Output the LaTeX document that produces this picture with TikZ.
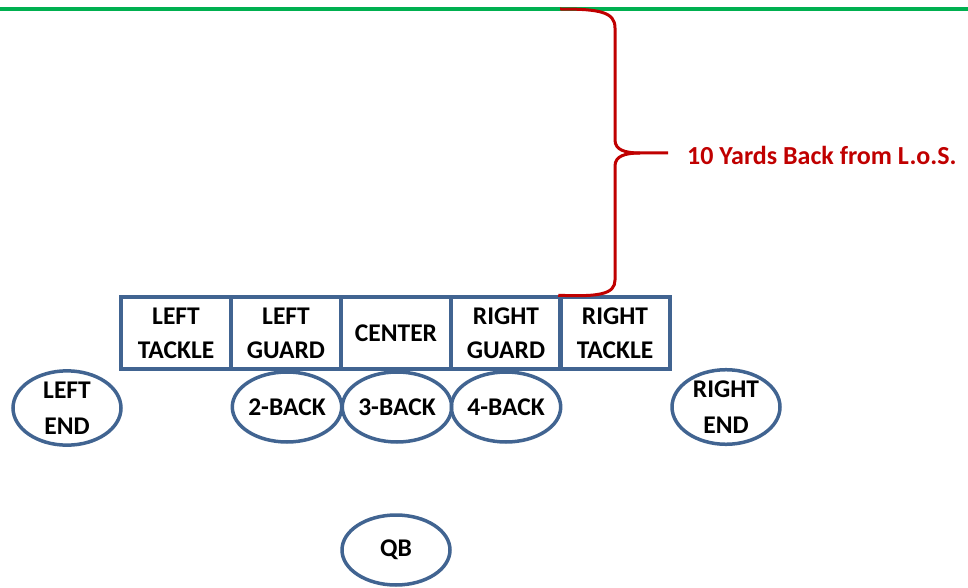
\documentclass[tikz,border=0pt]{standalone}
\usepackage{fontspec}
\setmainfont{Carlito}
\usetikzlibrary{shapes.geometric}
\definecolor{losgreen}{RGB}{0,176,80}
\definecolor{posblue}{RGB}{65,100,145}
\definecolor{bracered}{RGB}{192,0,0}
\tikzset{
  lineman/.style={draw=posblue, line width=3.5pt, rectangle, minimum width=110pt, minimum height=72pt,
    inner sep=0pt, align=center, font=\bfseries\fontsize{25.5}{34}\selectfont},
  back/.style={draw=posblue, line width=3.5pt, ellipse, minimum width=108pt, minimum height=70pt,
    inner sep=0pt, align=center, font=\bfseries\fontsize{25.5}{36}\selectfont},
}
\begin{document}
\begin{tikzpicture}[x=1pt,y=-1pt]
\useasboundingbox (0,0) rectangle (968,588);
\draw[losgreen, line width=4pt] (0,9) -- (968,9);
% offensive line
\node[lineman] (lt) at (176,333) {LEFT\\TACKLE};
\node[lineman] (lg) at (286,333) {LEFT\\GUARD};
\node[lineman] (c)  at (396,333) {CENTER};
\node[lineman] (rg) at (506,333) {RIGHT\\GUARD};
\node[lineman] (rt) at (615,333) {RIGHT\\TACKLE};
% backs
\node[back] (le) at (67,408) {LEFT\\END};
\node[back] (b2) at (287,407) {2-BACK};
\node[back] (b3) at (397,407) {3-BACK};
\node[back] (b4) at (506,407) {4-BACK};
\node[back] (re) at (726,407) {RIGHT\\END};
\node[back] (qb) at (396,550) {QB};
% brace
\coordinate (btop) at (560,9);
\coordinate (bbot) at (rt.north west);
\coordinate (btip) at (668,153);
\draw[bracered, line width=3pt, line join=round]
  (btop) .. controls (600,9) and (615,12) .. (615,28)
  -- (615,140) .. controls (615,150) and (625,153) .. (640,153)
  -- (btip);
\draw[bracered, line width=3pt, line join=round]
  (640,153) .. controls (625,153) and (615,156) .. (615,166)
  -- (615,280) .. controls (615,294) and (600,297) .. (bbot);
\node[anchor=west, text=bracered, font=\bfseries\fontsize{26}{30}\selectfont, inner sep=0pt] (lbl) at (687,155) {10 Yards Back from L.o.S.};
\end{tikzpicture}
\end{document}
